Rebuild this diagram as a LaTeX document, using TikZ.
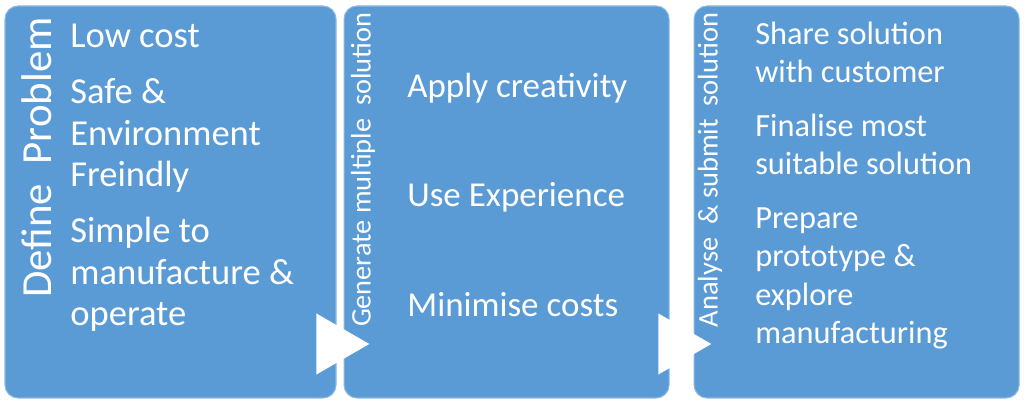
\documentclass[tikz,border=0pt]{standalone}
\usepackage{fontspec}
\setmainfont{Carlito}
\usepackage{tikz}
\usetikzlibrary{shapes.geometric,positioning,calc}
\definecolor{stageblue}{HTML}{5B9BD5}

\begin{document}
\begin{tikzpicture}[
    stage/.style={fill=stageblue, draw=white!30!stageblue, line width=0.6pt, rounded corners=0.26cm, minimum height=7.84cm, inner sep=0pt},
    title/.style={rotate=90, text=white, inner sep=0pt},
    items/.style={text=white, align=left, anchor=north west, inner sep=0pt},
    chevron/.style={isosceles triangle, isosceles triangle apex angle=60, fill=white, minimum width=0.92cm, minimum height=1.06cm, inner sep=0pt, anchor=apex}
]
    \useasboundingbox (0,0) rectangle (20.48,-8.18);

    % Stages
    \node[stage, minimum width=6.62cm] (define) at (3.41,-4.04) {};
    \node[stage, minimum width=6.5cm, right=0.14cm of define] (generate) {};
    \node[stage, minimum width=6.5cm, right=0.48cm of generate] (analyse) {};

    % Arrow heads between stages
    \node[chevron] (arr1) at (7.4,-6.88) {};
    \node[chevron] (arr2) at (14.24,-6.88) {};

    % Stage titles
    \node[title, font=\fontsize{24.4pt}{28pt}\selectfont] (tdefine) at (0.74,-3.15) {Define\ \ Problem};
    \node[title, font=\fontsize{16.1pt}{19pt}\selectfont] (tgenerate) at (7.26,-3.4) {Generate multiple\ \ solution};
    \node[title, font=\fontsize{16.2pt}{19pt}\selectfont] (tanalyse) at (14.2,-3.4) {Analyse\ \ \& submit\ \ solution};

    % Stage contents
    \node[items, font=\fontsize{20.8pt}{23.7pt}\selectfont] (ldefine) at (1.4,-0.48)
        {Low cost\\[8pt]Safe \&\\Environment\\Freindly\\[8pt]Simple to\\manufacture \&\\operate};
    \node[items, font=\fontsize{19.9pt}{23.7pt}\selectfont] (lgenerate) at (8.14,-1.46)
        {Apply creativity\\[38.5pt]Use Experience\\[38.5pt]Minimise costs};
    \node[items, font=\fontsize{18.4pt}{21.9pt}\selectfont] (lanalyse) at (15.1,-0.43)
        {Share solution\\with customer\\[8.5pt]Finalise most\\suitable solution\\[8.5pt]Prepare\\prototype \&\\explore\\manufacturing};
\end{tikzpicture}
\end{document}
